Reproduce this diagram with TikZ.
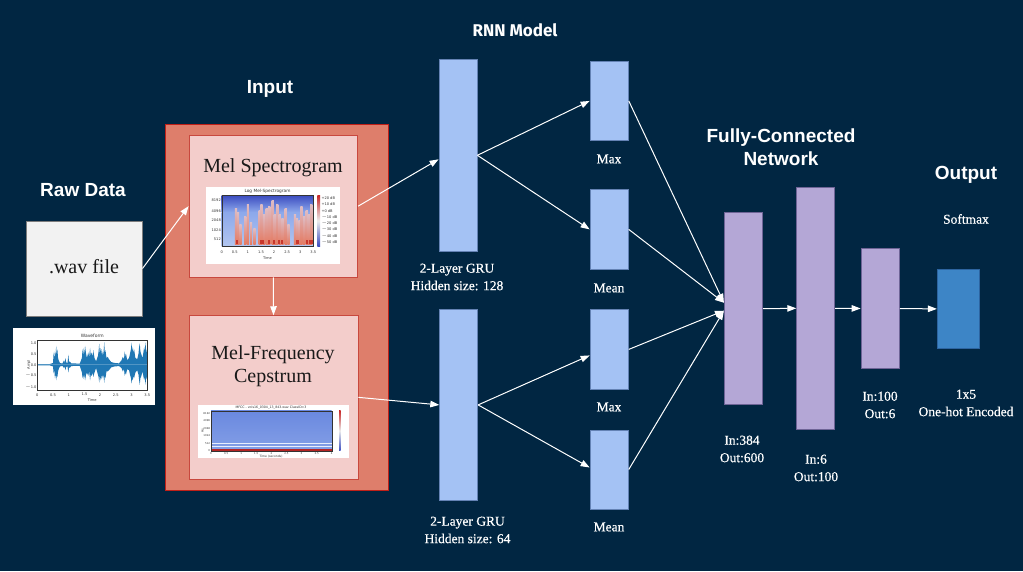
\documentclass[tikz,border=0pt]{standalone}
\usepackage{fontspec}
\setmainfont{Liberation Serif}
\newfontfamily\lblfont{Liberation Serif}[FakeBold=0.5]
\newfontfamily\titlefont{Liberation Sans}
\newfontfamily\rnnfont{Fira Sans}
\newfontfamily\tinyfont{DejaVu Sans}
\usetikzlibrary{arrows.meta,calc}
\definecolor{bg}{RGB}{1,38,66}
\definecolor{inputfill}{RGB}{222,126,107}
\definecolor{inputbd}{RGB}{192,32,24}
\definecolor{pinkfill}{RGB}{243,205,203}
\definecolor{pinkbd}{RGB}{200,72,62}
\definecolor{wavfill}{RGB}{242,242,242}
\definecolor{wavbd}{RGB}{125,125,125}
\definecolor{grufill}{RGB}{164,194,244}
\definecolor{grubd}{RGB}{100,130,180}
\definecolor{fcfill}{RGB}{180,167,214}
\definecolor{fcbd}{RGB}{110,100,150}
\definecolor{outfill}{RGB}{61,133,198}
\definecolor{outbd}{RGB}{45,100,160}
\definecolor{cwblue}{RGB}{59,76,192}
\definecolor{cwmid}{RGB}{140,168,235}
\definecolor{cwlight}{RGB}{178,198,240}
\definecolor{cwred}{RGB}{200,40,40}
\definecolor{streakbot}{RGB}{228,122,98}
\definecolor{streaktop}{RGB}{222,188,196}
\definecolor{spot}{RGB}{200,55,45}
\definecolor{wavblue}{RGB}{31,119,180}
\definecolor{mfccblue}{RGB}{110,142,226}
\tikzset{
  hd/.style={font=\titlefont\bfseries\fontsize{19}{23}\selectfont, text=white, align=center, inner sep=0pt},
  lbl/.style={font=\lblfont\fontsize{13.5}{17.5}\selectfont, text=white, align=center, inner sep=0pt},
  boxtxt/.style={font=\fontsize{20}{23.5}\selectfont, text=black!90, align=center, inner sep=0pt},
  tiny/.style={font=\tinyfont\fontsize{3.6}{4}\selectfont, text=black!80, inner sep=0.3pt},
  gru/.style={draw=grubd, fill=grufill, line width=0.8pt, inner sep=0pt},
  fc/.style={draw=fcbd, fill=fcfill, line width=0.8pt, inner sep=0pt},
  conn/.style={draw=white, line width=1pt, -{Triangle[length=9pt,width=6.5pt]}},
}
\begin{document}
\begin{tikzpicture}[x=1pt,y=-1pt]
\useasboundingbox (0,0) rectangle (1023,571);
\fill[bg] (0,0) rectangle (1023,571);

% ---------- titles ----------
\node[hd] (tRaw) at (83,190) {Raw Data};
\node[hd] (tInput) at (270,89) {Input};
\node[font=\rnnfont\bfseries\fontsize{17}{20}\selectfont, text=white, inner sep=0pt] (tRNN) at (515,30) {RNN Model};
\node[hd] (tFC) at (781,147) {Fully-Connected\\Network};
\node[hd] (tOut) at (966,175) {Output};
\node[lbl] (tSoft) at (966,219) {Softmax};

% ---------- raw data ----------
\node[draw=wavbd, fill=wavfill, line width=1pt, minimum width=116pt, minimum height=95pt, inner sep=0pt] (wav) at (84,268.5) {};
\node[boxtxt] (wavtxt) at (84,267) {.wav file};

% waveform image
\fill[white] (13,328) rectangle (155,405);
\fill[wavblue] (37.3,364.7)
  \foreach \t/\a in {0/.03,0.4/.03,0.5/.08,0.52/.55,0.54/.25,0.56/.6,0.58/.35,0.6/.85,0.62/.45,0.64/.7,0.66/.3,0.68/.2,0.72/.08,0.8/.05,0.85/.2,0.87/.08,0.9/.3,0.92/.1,0.96/.08,0.99/.45,1.01/.1,1.03/.15,1.08/.06,1.35/.05,1.42/.3,1.44/.7,1.46/.4,1.48/.75,1.5/.45,1.52/.85,1.55/.5,1.58/.3,1.62/.55,1.65/.35,1.68/.75,1.7/.4,1.73/.55,1.76/.35,1.78/.65,1.82/.3,1.87/.15,1.93/.4,1.95/.6,1.97/.95,1.99/.5,2.01/.75,2.03/.45,2.05/.7,2.09/.4,2.11/.6,2.13/1.0,2.15/.5,2.17/.65,2.2/.3,2.24/.35,2.28/.25,2.35/.12,2.45/.08,2.6/.06,2.68/.2,2.72/.35,2.76/.25,2.78/.6,2.8/.35,2.82/.5,2.86/.2,2.92/.3,2.95/.5,2.98/.7,3.0/1.0,3.02/.55,3.04/.8,3.06/.5,3.08/.7,3.12/.3,3.18/.25,3.22/.5,3.24/.8,3.26/.95,3.28/.6,3.3/.5,3.35/.3,3.38/.6,3.4/.8,3.42/.55,3.44/1.0,3.46/.7,3.48/.6,3.5/.3}
  { -- ({37.3+\t*31.43},{364.7-\a*22.3}) } -- (147.3,364.7) -- cycle;
\fill[wavblue] (37.3,364.7)
  \foreach \t/\a in {0/.03,0.4/.03,0.5/.08,0.52/.4,0.54/.2,0.56/.6,0.58/.4,0.6/.7,0.62/.5,0.64/.55,0.66/.3,0.68/.2,0.72/.08,0.8/.05,0.85/.15,0.87/.08,0.9/.25,0.92/.1,0.96/.08,0.99/.35,1.01/.1,1.03/.15,1.08/.06,1.35/.05,1.42/.35,1.44/.6,1.46/.45,1.48/.65,1.5/.4,1.52/.7,1.55/.45,1.58/.35,1.62/.5,1.65/.3,1.68/.7,1.7/.45,1.73/.5,1.76/.35,1.78/.55,1.82/.35,1.87/.15,1.93/.45,1.95/.55,1.97/.8,1.99/.5,2.01/.7,2.03/.45,2.05/.65,2.09/.45,2.11/.55,2.13/.8,2.15/.5,2.17/.6,2.2/.3,2.24/.3,2.28/.25,2.35/.12,2.45/.08,2.6/.06,2.68/.15,2.72/.3,2.76/.2,2.78/.5,2.8/.35,2.82/.45,2.86/.2,2.92/.25,2.95/.45,2.98/.6,3.0/.85,3.02/.6,3.04/.7,3.06/.5,3.08/.6,3.12/.35,3.18/.25,3.22/.45,3.24/.7,3.26/.9,3.28/.6,3.3/.55,3.35/.3,3.38/.55,3.4/.7,3.42/.5,3.44/.9,3.46/.65,3.48/.6,3.5/.3}
  { -- ({37.3+\t*31.43},{364.7+\a*22.3}) } -- (147.3,364.7) -- cycle;
\draw[black!80, line width=0.4pt] (37.3,340.3) rectangle (147.3,390.3);
\node[tiny, font=\tinyfont\fontsize{4.5}{5}\selectfont] (wtitle) at (92.3,336) {Waveform};
\foreach \v/\y in {1.0/342.7,0.5/354.3,0.0/364.7,$-$0.5/375.3,$-$1.0/387.3}
  \node[tiny, anchor=east] at (37,\y) {\v};
\foreach \i/\v in {0/0,1/0.5,2/1,3/1.5,4/2,5/2.5,6/3,7/3.5}
  \node[tiny] at ({37.3+\i*15.71},394.7) {\v};
\node[tiny] (wtime) at (92.3,400.5) {Time};
\node[tiny, rotate=90] (wamp) at (29,364.7) {Ampl};

% ---------- input block ----------
\node[draw=inputbd, fill=inputfill, line width=1.3pt, minimum width=223pt, minimum height=365.6pt, inner sep=0pt] (input) at (277.2,307.5) {};
\node[draw=pinkbd, fill=pinkfill, line width=0.9pt, minimum width=168.7pt, minimum height=141.7pt, inner sep=0pt] (mel) at (273.35,206.15) {};
\node[draw=pinkbd, fill=pinkfill, line width=0.9pt, minimum width=169pt, minimum height=163.3pt, inner sep=0pt] (mfccbox) at (273.5,397.35) {};
\node[boxtxt] (meltxt) at (273,168) {Mel Spectrogram};
\node[boxtxt] (mfcctxt) at (273,366) {Mel-Frequency\\Cepstrum};

% spectrogram image
\fill[white] (206,187) rectangle (340,264);
\shade[top color=cwblue, bottom color=cwmid] (221.7,195.3) rectangle (313.3,212);
\shade[top color=cwmid, bottom color=cwlight] (221.7,212) rectangle (313.3,246.3);
\foreach \t/\h in {0.55/36,0.62/32,0.72/20,0.9/28,1.0/40,1.12/22,1.25/16,1.45/34,1.52/40,1.62/30,1.72/36,1.82/38,1.95/44,2.03/30,2.12/40,2.22/30,2.32/26,2.45/36,2.55/20,2.8/30,2.88/26,2.97/24,3.05/38,3.15/28,3.25/34,3.33/30,3.42/40}
{
  \pgfmathsetmacro{\xx}{221.7+\t*26.17}
  \shade[bottom color=streakbot, top color=streaktop] ({\xx-1.1},244.5) rectangle ({\xx+1.1},{244.5-\h});
}
\foreach \t in {0.58,1.5,1.58,1.8,2.0,2.2,2.3,2.9,3.25,3.4,3.45}
{
  \pgfmathsetmacro{\xx}{221.7+\t*26.17}
  \fill[spot] ({\xx-1.2},243.5) rectangle ({\xx+1.2},239.5);
}
\draw[black!80, line width=0.35pt] (221.7,195.3) rectangle (313.3,246.3);
\shade[top color=cwred, bottom color=cwblue, middle color=white!85!gray] (317.3,195.3) rectangle (320,246.3);
\node[tiny, font=\tinyfont\fontsize{4.3}{5}\selectfont] (stitle) at (267.5,191.3) {Log Mel-Spectrogram};
\foreach \v/\y in {8192/200.3,4096/210.7,2048/220.3,1024/229.7,512/239}
  \node[tiny, anchor=east] at (221.3,\y) {\v};
\foreach \i/\v in {0/0,1/0.5,2/1,3/1.5,4/2,5/2.5,6/3,7/3.5}
  \node[tiny] at ({221.7+\i*13.09},251.8) {\v};
\node[tiny] (stime) at (267.5,257.8) {Time};
\foreach \i/\v in {0/+20 dB,1/+10 dB,2/+0 dB,3/$-$10 dB,4/$-$20 dB,5/$-$30 dB,6/$-$40 dB,7/$-$50 dB}
  \node[tiny, anchor=west] at (321,{198+\i*6.33}) {\v};

% MFCC image
\fill[white] (198,405) rectangle (349,458);
\shade[top color=mfccblue!92!cwblue, bottom color=mfccblue!85!white] (211,410.7) rectangle (331.7,450.7);
\draw[white!85!mfccblue, line width=0.5pt] (211,443.5) -- (331.7,443.5);
\draw[white!85!mfccblue, line width=0.4pt] (211,446.3) -- (331.7,446.3);
\fill[cwred!90!black] (211,449.2) rectangle (331.7,450.7);
\draw[black!80, line width=0.3pt] (211,410.7) rectangle (331.7,450.7);
\shade[top color=cwred, bottom color=cwblue, middle color=white!85!gray] (339,410.7) rectangle (340.7,450.7);
\node[tiny, font=\tinyfont\fontsize{3.2}{3.5}\selectfont] (mtitle) at (271,407.8) {MFCC - vols16\_0304\_13\_843.wav ClassID=3};
\foreach \v/\y in {8192/414,4096/421,2048/428.7,1024/436,512/443.3,0/450.7}
  \node[tiny, font=\tinyfont\fontsize{2.6}{3}\selectfont, anchor=east] at (210.6,\y) {\v};
\foreach \i/\v in {0/0,1/0.5,2/1,3/1.5,4/2,5/2.5,6/3,7/3.5,8/4}
  \node[tiny, font=\tinyfont\fontsize{2.6}{3}\selectfont] at ({211+\i*15.09},453.5) {\v};
\node[tiny, font=\tinyfont\fontsize{3}{3.5}\selectfont] (mtime) at (271,456.6) {Time (seconds)};
\node[tiny, font=\tinyfont\fontsize{3}{3.5}\selectfont, rotate=90] (mhz) at (202.5,430.7) {Hz};

% ---------- RNN ----------
\node[gru, minimum width=38pt, minimum height=192pt] (gru1) at (458,155.3) {};
\node[gru, minimum width=38pt, minimum height=191.7pt] (gru2) at (458.7,404.9) {};
\node[gru, minimum width=38.3pt, minimum height=79.7pt] (max1) at (609.2,100.9) {};
\node[gru, minimum width=38.3pt, minimum height=79.2pt] (mean1) at (609.2,229.4) {};
\node[gru, minimum width=38.3pt, minimum height=79.2pt] (max2) at (609.2,349.4) {};
\node[gru, minimum width=38.3pt, minimum height=79pt] (mean2) at (609.2,469.5) {};
\node[lbl] (gru1lbl) at (457,277) {2-Layer GRU\\Hidden size: 128};
\node[lbl] (gru2lbl) at (467.5,530) {2-Layer GRU\\Hidden size: 64};
\node[lbl] (max1lbl) at (609,159) {Max};
\node[lbl] (mean1lbl) at (609,288) {Mean};
\node[lbl] (max2lbl) at (609,407) {Max};
\node[lbl] (mean2lbl) at (609,527) {Mean};

% ---------- FC ----------
\node[fc, minimum width=38.4pt, minimum height=192pt] (fc1) at (743.5,308.7) {};
\node[fc, minimum width=38pt, minimum height=242pt] (fc2) at (815.7,308.3) {};
\node[fc, minimum width=38.3pt, minimum height=120.4pt] (fc3) at (880.2,308.5) {};
\node[draw=outbd, fill=outfill, line width=0.8pt, inner sep=0pt, minimum width=42.4pt, minimum height=79.7pt] (out) at (958.5,308.9) {};
\node[lbl] (fc1lbl) at (742,449) {In:384\\Out:600};
\node[lbl] (fc2lbl) at (816,468) {In:6\\Out:100};
\node[lbl] (fc3lbl) at (880,405) {In:100\\Out:6};
\node[lbl] (outlbl) at (966,403) {1x5\\One-hot Encoded};

% ---------- connectors ----------
\draw[conn] (wav.east) -- (mel.west);
\draw[conn] (mel.south) -- (mfccbox.north);
\draw[conn] (mel.east) -- ($(gru1.west)+(0,4)$);
\draw[conn] (mfccbox.east) -- (gru2.west);
\draw[conn] (gru1.east) -- (max1.west);
\draw[conn] (gru1.east) -- (mean1.west);
\draw[conn] (gru2.east) -- ($(max2.west)+(0,6)$);
\draw[conn] (gru2.east) -- ($(mean2.west)+(0,-2)$);
\draw[conn] (max1.east) -- ($(fc1.west)+(0,-6)$);
\draw[conn] (mean1.east) -- ($(fc1.west)+(0,-6)$);
\draw[conn] (max2.east) -- ($(fc1.west)+(0,2)$);
\draw[conn] (mean2.east) -- ($(fc1.west)+(0,2)$);
\draw[conn] (fc1.east) -- (fc2.west);
\draw[conn] (fc2.east) -- (fc3.west);
\draw[conn] (fc3.east) -- (out.west);
\end{tikzpicture}
\end{document}
